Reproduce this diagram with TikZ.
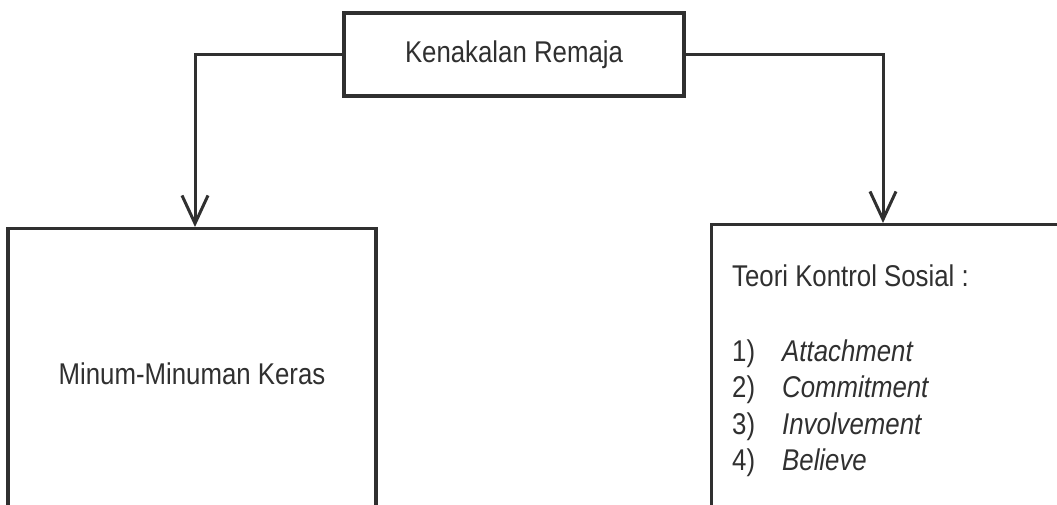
\documentclass[tikz,border=0pt]{standalone}
\usepackage{fontspec}
\setmainfont[FakeStretch=0.86]{Liberation Sans}
\usetikzlibrary{arrows.meta}
\definecolor{ink}{HTML}{303030}
\tikzset{
  box/.style={draw=ink, line width=3.4pt, fill=white, rectangle, inner sep=0pt},
  conn/.style={draw=ink, line width=3pt, -{Straight Barb[length=28pt,width=26pt]}},
  label/.style={font=\fontsize{30}{36.5}\selectfont, text=ink, inner sep=0pt}
}
\begin{document}
\begin{tikzpicture}[x=1pt, y=-1pt]
  \useasboundingbox (0,0) rectangle (1057,504);
  \clip (0,0) rectangle (1057,504);
  \fill[white] (0,0) rectangle (1057,504);

  % root
  \node[box, label, minimum width=340pt, minimum height=83pt] (top) at (514,54.5) {Kenakalan Remaja};

  % left branch
  \node[box, label, minimum width=368pt, minimum height=290pt, anchor=north] (lbox) at (192,227) {Minum-Minuman Keras};

  % right branch
  \node[box, minimum width=370pt, minimum height=320pt, anchor=north west] (rbox) at (710,223) {};
  \node[label, align=left, anchor=north west] (rtext) at (732,265)
    {Teori Kontrol Sosial :\\[38pt]
     \makebox[50pt][l]{1)}\textit{Attachment}\\
     \makebox[50pt][l]{2)}\textit{Commitment}\\
     \makebox[50pt][l]{3)}\textit{Involvement}\\
     \makebox[50pt][l]{4)}\textit{Believe}};

  % connectors
  \draw[conn] (top.west) -| ([xshift=3pt]lbox.north);
  \draw[conn] (top.east) -| ([xshift=173pt]rbox.north west);
\end{tikzpicture}
\end{document}
